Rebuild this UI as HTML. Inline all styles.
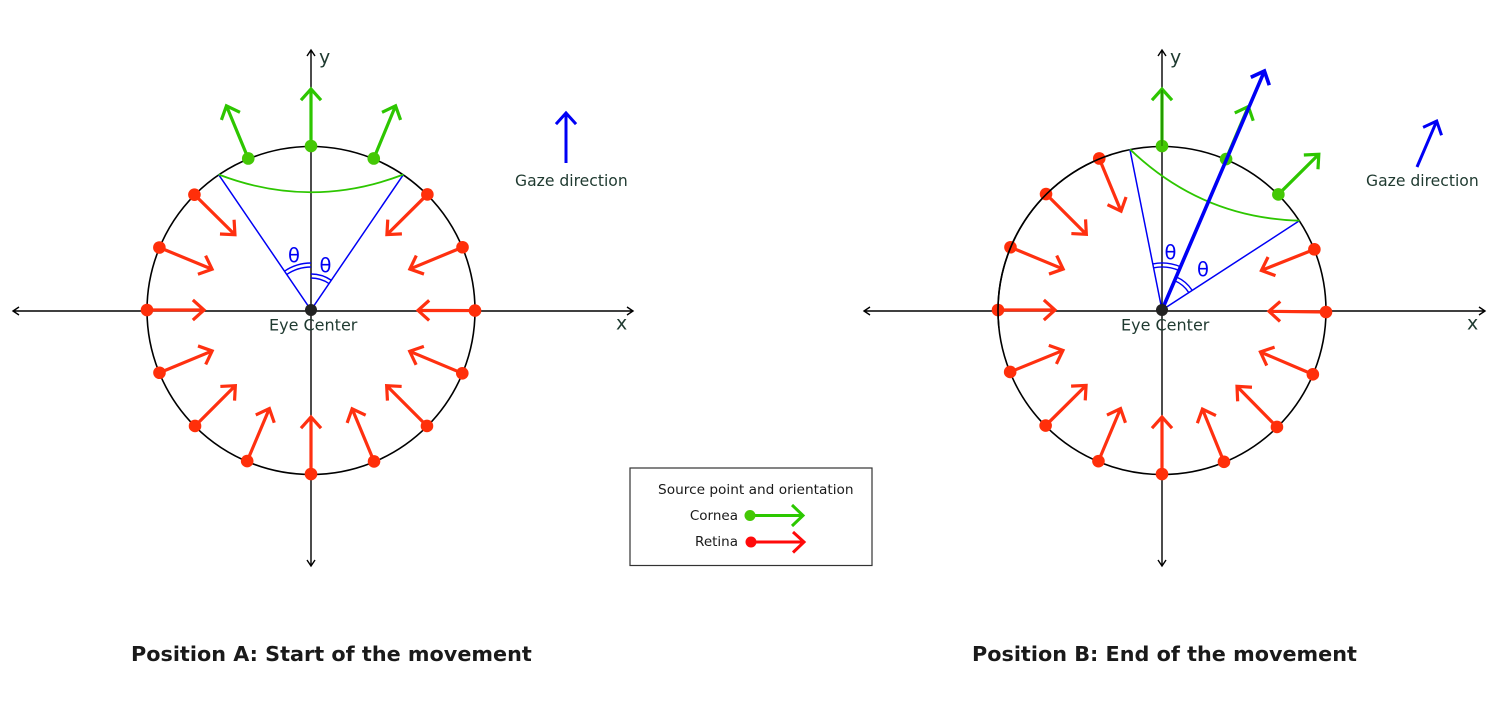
<!DOCTYPE html>
<html lang="en">
<head>
<meta charset="utf-8">
<title>Eye movement diagram</title>
<style>
html,body{margin:0;padding:0;background:#fff;}
svg{display:block;}
text{font-family:"DejaVu Sans","Liberation Sans",sans-serif;}
</style>
</head>
<body>
<svg id="chart" xmlns="http://www.w3.org/2000/svg" width="1502" height="710" viewBox="0 0 1502 710">
  <rect x="0" y="0" width="1502" height="710" fill="#ffffff"/>
  <g id="panel-a"></g>
  <g id="panel-b"></g>

  <text x="131" y="661" font-size="20.75" font-weight="bold" fill="#1a1a1a">Position A: Start of the movement</text>
  <text x="972" y="661" font-size="20.75" font-weight="bold" fill="#1a1a1a">Position B: End of the movement</text>

  <g>
    <rect x="630" y="468" width="242" height="97.5" fill="#fff" stroke="#333" stroke-width="1.2"/>
    <text x="658" y="494" font-size="13.7" fill="#1a1a1a">Source point and orientation</text>
    <text x="738" y="520" font-size="13.5" text-anchor="end" fill="#1a1a1a">Cornea</text>
    <text x="738" y="546" font-size="13.5" text-anchor="end" fill="#1a1a1a">Retina</text>
    <path d="M750 515.5H802M792 505L803 515.5L792 526" fill="none" stroke="#2cc800" stroke-width="3"/>
    <circle cx="750" cy="515.5" r="5.5" fill="#44c805"/>
    <path d="M751 542H803M793 532L804 542L793 552.5" fill="none" stroke="#ff0a0a" stroke-width="3"/>
    <circle cx="751" cy="542" r="5.5" fill="#ff0a0a"/>
  </g>
</svg>
<script>
// Source points around the eye, degrees counter-clockwise from +x
const sourceAnglesA = [359.8, 22.5, 44.8, 67.5, 90, 112.5, 135.3, 157.6, 180, 202.5, 225, 247.1, 270, 292.6, 315, 337.3];
const sourceAnglesB = [359.3, 21.7, 44.8, 67, 90, 112.5, 135, 157.5, 180, 202.2, 224.8, 247.2, 270, 292.2, 314.5, 336.9];
// Which source points are cornea in each position
const corneaAnglesA = [67.5, 90, 112.5];
const corneaAnglesB = [44.8, 67, 90];
// Gaze direction in each position
const gazeAngleA = 90;
const gazeAngleB = 66.8;
// Edges of the field of view in each position
const fieldEdgesA = [124.3, 55.7];
const fieldEdgesB = [101.3, 33];
// Orientation arrow length and eye radius
const orientationLength = [57];
const eyeRadius = [164];

const NS = 'http://www.w3.org/2000/svg';
const GREEN = '#2dc600', GREEN_DOT = '#44c805', RED = '#ff3010', RED_DOT = '#ff2f0a', BLUE = '#0000f5', INK = '#1f3a30';

function make(tag, attrs, parent, txt) {
  const el = document.createElementNS(NS, tag);
  for (const k in attrs) el.setAttribute(k, attrs[k]);
  if (txt) el.textContent = txt;
  parent.appendChild(el);
  return el;
}
function polar(c, r, deg) {
  const a = deg * Math.PI / 180;
  return [c[0] + r * Math.cos(a), c[1] - r * Math.sin(a)];
}
function arrowPath(p, q, arm) {
  const ang = Math.atan2(q[1] - p[1], q[0] - p[0]);
  const spread = 42 * Math.PI / 180;
  const a1 = [q[0] - arm * Math.cos(ang - spread), q[1] - arm * Math.sin(ang - spread)];
  const a2 = [q[0] - arm * Math.cos(ang + spread), q[1] - arm * Math.sin(ang + spread)];
  return 'M' + p[0] + ' ' + p[1] + 'L' + q[0] + ' ' + q[1] + 'M' + a1[0] + ' ' + a1[1] + 'L' + q[0] + ' ' + q[1] + 'L' + a2[0] + ' ' + a2[1];
}
function arcPath(c, r, from, to) {
  const s = polar(c, r, from), e = polar(c, r, to);
  const large = Math.abs(to - from) > 180 ? 1 : 0;
  const sweep = to < from ? 1 : 0;
  return 'M' + s[0] + ' ' + s[1] + 'A' + r + ' ' + r + ' 0 ' + large + ' ' + sweep + ' ' + e[0] + ' ' + e[1];
}

function drawPanel(root, c, sourceAngles, corneaAngles, gazeAngle, edges, opts) {
  const R = eyeRadius[0];

  // axes
  const L = opts.axisLeft, Rt = opts.axisRight, T = 50, B = 566, ay = c[1] + 1;
  const hAxis = make('path', {d: 'M' + L + ' ' + ay + 'H' + Rt + 'M' + (L + 6) + ' ' + (ay - 4) + 'L' + L + ' ' + ay + 'L' + (L + 6) + ' ' + (ay + 4) + 'M' + (Rt - 6) + ' ' + (ay - 4) + 'L' + Rt + ' ' + ay + 'L' + (Rt - 6) + ' ' + (ay + 4), fill: 'none', stroke: '#000', 'stroke-width': 1.4}, root);
  
  
  const vAxis = make('path', {d: 'M' + c[0] + ' ' + T + 'V' + B + 'M' + (c[0] - 4) + ' ' + (T + 6) + 'L' + c[0] + ' ' + T + 'L' + (c[0] + 4) + ' ' + (T + 6) + 'M' + (c[0] - 4) + ' ' + (B - 6) + 'L' + c[0] + ' ' + B + 'L' + (c[0] + 4) + ' ' + (B - 6), fill: 'none', stroke: '#000', 'stroke-width': 1.4}, root);
  
  

  const yLabel = make('text', {x: c[0] + 8, y: 63.5, 'font-size': 19, fill: INK}, root, 'y');
  
  
  const xLabel = make('text', {x: c[0] + 305, y: 329.5, 'font-size': 19, fill: INK}, root, 'x');
  
  

  // eye outline
  const eye = make('circle', {cx: c[0], cy: c[1] + 0.5, r: R, fill: 'none', stroke: '#000', 'stroke-width': 1.6}, root);
  
  

  // field of view
  const e0 = polar(c, R, edges[0]), e1 = polar(c, R, edges[1]), ctrl = polar(c, 100, gazeAngle);
  const fieldLines = make('path', {d: 'M' + e0[0] + ' ' + e0[1] + 'L' + c[0] + ' ' + c[1] + 'L' + e1[0] + ' ' + e1[1], fill: 'none', stroke: BLUE, 'stroke-width': 1.5}, root);
  
  
  const curve = make('path', {d: 'M' + e0[0] + ' ' + e0[1] + 'Q' + ctrl[0] + ' ' + ctrl[1] + ' ' + e1[0] + ' ' + e1[1], fill: 'none', stroke: GREEN, 'stroke-width': 1.8}, root);
  
  

  // angle arcs
  [47, 43].forEach(function (r) {
    const arc = make('path', {d: arcPath(c, r, edges[0], gazeAngle), fill: 'none', stroke: BLUE, 'stroke-width': 1.4}, root);
    
    
  });
  [36, 32].forEach(function (r) {
    const arc = make('path', {d: arcPath(c, r, gazeAngle, edges[1]), fill: 'none', stroke: BLUE, 'stroke-width': 1.4}, root);
    
    
  });
  const t1 = make('text', {x: opts.theta1[0], y: opts.theta1[1], 'font-size': 19.5, fill: BLUE}, root, 'θ');
  
  
  const t2 = make('text', {x: opts.theta2[0], y: opts.theta2[1], 'font-size': 19.5, fill: BLUE}, root, 'θ');
  
  

  // source points and their orientation arrows
  sourceAngles.forEach(function (deg) {
    const isCornea = corneaAngles.indexOf(deg) >= 0;
    const p = polar(c, R, deg);
    const q = polar(c, R + (isCornea ? orientationLength[0] : -orientationLength[0]), deg);
    const arrow = make('path', {d: arrowPath(p, q, 15), fill: 'none', stroke: isCornea ? GREEN : RED, 'stroke-width': 3.2}, root);
    
    
    const dot = make('circle', {cx: p[0], cy: p[1], r: 6.3, fill: isCornea ? GREEN_DOT : RED_DOT}, root);
    
    
  });

  if (opts.overlayArc) {
    const over = make('path', {d: arcPath([c[0], c[1] + 0.5], R, 108, 186), fill: 'none', stroke: '#000', 'stroke-width': 1.6}, root);
    
    
    const axisOver = make('path', {d: 'M' + c[0] + ' ' + 90 + 'V' + 146, fill: 'none', stroke: '#1a6a00', 'stroke-width': 1}, root);
    
    
  }

  // long gaze arrow
  if (opts.longGaze) {
    const tip = polar(c, opts.longGaze, gazeAngle);
    const g = make('path', {d: arrowPath(c, tip, 15), fill: 'none', stroke: BLUE, 'stroke-width': 3.6}, root);
    
    
  }

  // center
  const center = make('circle', {cx: c[0], cy: c[1], r: 6, fill: '#222'}, root);
  
  
  const cl = make('text', {x: opts.centerLabelX, y: 330.5, 'font-size': 16, fill: INK}, root, 'Eye Center');
  
  

  // gaze indicator
  const gs = opts.gazeStart;
  const ge = polar(gs, 50, gazeAngle);
  const ga = make('path', {d: arrowPath(gs, ge, 15), fill: 'none', stroke: BLUE, 'stroke-width': 3}, root);
  
  
  const gl = make('text', {x: opts.gazeLabelX, y: 186, 'font-size': 15.6, fill: INK}, root, 'Gaze direction');
  
  
}

drawPanel(document.getElementById('panel-a'), [311, 310], sourceAnglesA, corneaAnglesA, gazeAngleA, fieldEdgesA, {
  axisLeft: 13, axisRight: 633,
  theta1: [288, 262], theta2: [319.5, 272],
  centerLabelX: 269, gazeStart: [566, 163], gazeLabelX: 515
});
drawPanel(document.getElementById('panel-b'), [1162, 310], sourceAnglesB, corneaAnglesB, gazeAngleB, fieldEdgesB, {
  axisLeft: 864, axisRight: 1485,
  theta1: [1164.5, 259], theta2: [1197, 276],
  centerLabelX: 1121, gazeStart: [1417, 167], gazeLabelX: 1366,
  longGaze: 260, overlayArc: true
});
</script>
</body>
</html>
